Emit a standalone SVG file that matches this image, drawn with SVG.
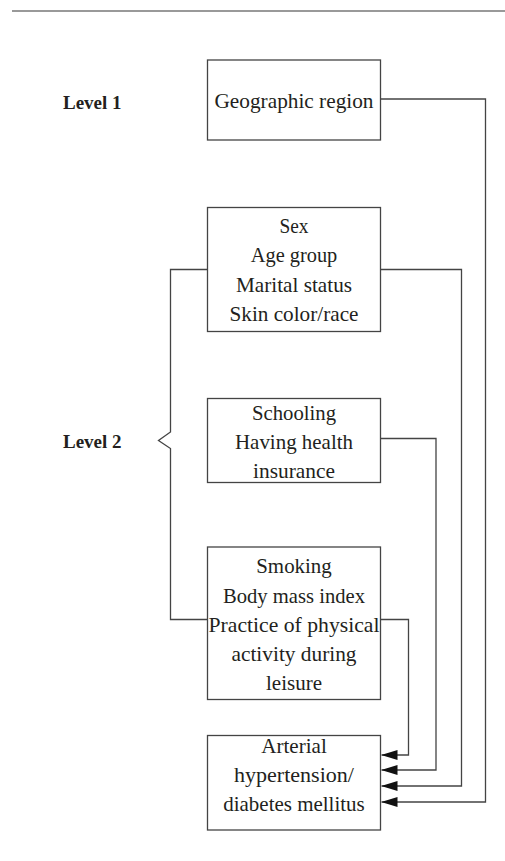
<svg xmlns="http://www.w3.org/2000/svg" width="505" height="861" viewBox="0 0 505 861">
<defs>
<style>
.box{fill:#fff;stroke:#444;stroke-width:1.3}
.t{font-family:"Liberation Serif","Times New Roman",serif;font-size:21px;fill:#231f20;text-anchor:middle}
.lv{font-family:"Liberation Serif","Times New Roman",serif;font-size:19px;font-weight:bold;fill:#231f20}
.c{fill:none;stroke:#444;stroke-width:1.3}
</style>
<marker id="ah" viewBox="0 0 16 10" refX="16" refY="5" markerWidth="16" markerHeight="10" markerUnits="userSpaceOnUse" orient="auto">
<path d="M0,0 L16,5 L0,10 Z" fill="#111"/>
</marker>
</defs>
<rect width="505" height="861" fill="#fff"/>
<line x1="12" y1="11" x2="505" y2="11" stroke="#777" stroke-width="1.5"/>
<g id="labels">
<text class="lv" x="63" y="109">Level 1</text>
<text class="lv" x="63" y="448">Level 2</text>
</g>
<g id="connectors">
<path class="c" d="M380.5,99 H485.5 V802 H381.5" marker-end="url(#ah)"/>
<path class="c" d="M380.5,269.5 H461.5 V786 H381.5" marker-end="url(#ah)"/>
<path class="c" d="M380.5,438.5 H436 V770 H381.5" marker-end="url(#ah)"/>
<path class="c" d="M380.5,619.5 H408.5 V755 H381.5" marker-end="url(#ah)"/>
<path class="c" d="M207.5,269.5 H170.5 V432 L158.5,440.5 L170.5,448.5 V619.5 H207.5"/>
</g>
<g id="n1">
<rect class="box" x="207.5" y="60" width="173" height="80"/>
<text class="t" x="294" y="108" textLength="159" lengthAdjust="spacingAndGlyphs">Geographic region</text>
</g>
<g id="n2">
<rect class="box" x="207.5" y="207.5" width="173" height="124"/>
<text class="t" x="294" y="233" textLength="29" lengthAdjust="spacingAndGlyphs">Sex</text>
<text class="t" x="294" y="262" textLength="86.5" lengthAdjust="spacingAndGlyphs">Age group</text>
<text class="t" x="294" y="291.5" textLength="116" lengthAdjust="spacingAndGlyphs">Marital status</text>
<text class="t" x="294" y="321" textLength="129" lengthAdjust="spacingAndGlyphs">Skin color/race</text>
</g>
<g id="n3">
<rect class="box" x="207.5" y="398.5" width="173" height="84"/>
<text class="t" x="294" y="420" textLength="84" lengthAdjust="spacingAndGlyphs">Schooling</text>
<text class="t" x="294" y="449" textLength="118" lengthAdjust="spacingAndGlyphs">Having health</text>
<text class="t" x="294" y="478" textLength="82" lengthAdjust="spacingAndGlyphs">insurance</text>
</g>
<g id="n4">
<rect class="box" x="207.5" y="547" width="173" height="152.5"/>
<text class="t" x="294" y="573" textLength="75.5" lengthAdjust="spacingAndGlyphs">Smoking</text>
<text class="t" x="294" y="602.5" textLength="142" lengthAdjust="spacingAndGlyphs">Body mass index</text>
<text class="t" x="294" y="631.5" textLength="171" lengthAdjust="spacingAndGlyphs">Practice of physical</text>
<text class="t" x="294" y="660.5" textLength="125" lengthAdjust="spacingAndGlyphs">activity during</text>
<text class="t" x="294" y="689.5">leisure</text>
</g>
<g id="n5">
<rect class="box" x="207.5" y="735.5" width="173" height="94.5"/>
<text class="t" x="294" y="753" textLength="65.5" lengthAdjust="spacingAndGlyphs">Arterial</text>
<text class="t" x="294" y="782" textLength="120" lengthAdjust="spacingAndGlyphs">hypertension/</text>
<text class="t" x="294" y="811" textLength="141.5" lengthAdjust="spacingAndGlyphs">diabetes mellitus</text>
</g>
</svg>
